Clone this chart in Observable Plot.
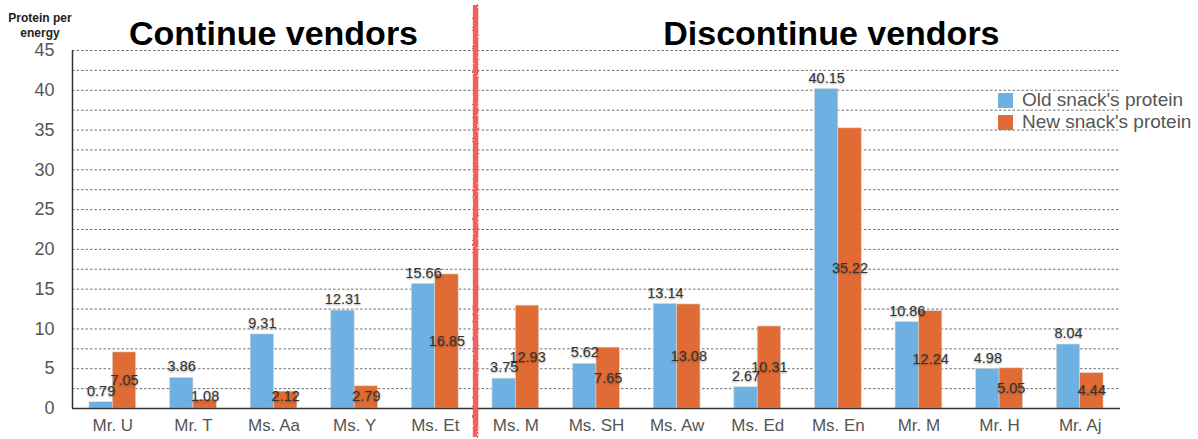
<!DOCTYPE html>
<html>
<head>
<meta charset="utf-8">
<script src="https://cdn.jsdelivr.net/npm/d3@7"></script>
<script src="https://cdn.jsdelivr.net/npm/@observablehq/plot@0.6"></script>
<style>
  body { margin: 0; background: #fff; }
  #wrap { position: relative; width: 1198px; height: 439px; font-family: "Liberation Sans", Arial, Helvetica, sans-serif; }
  #wrap svg { position: absolute; left: 0; top: 0; font-family: "Liberation Sans", Arial, Helvetica, sans-serif; }
  .title { position: absolute; top: 16px; font-weight: bold; font-size: 34px; line-height: 34px; color: #000; transform: translateX(-50%); white-space: nowrap; }
  .ylab { position: absolute; left: 40px; top: 11px; transform: translateX(-50%); font-weight: bold; font-size: 12px; line-height: 15px; text-align: center; color: #222; white-space: nowrap; }
  .legend { position: absolute; left: 998px; top: 89px; font-size: 19px; color: #555; }
  .legend .item { display: flex; align-items: center; height: 22px; white-space: nowrap; }
  .legend .sw { width: 15px; height: 15px; margin-right: 9px; }
  g[aria-label="text"] text { text-shadow: 0 1px 2px rgba(0,0,0,0.35); }
</style>
</head>
<body>
<div id="wrap"></div>
<script>
// ---- data ----
const categories = ["Mr. U", "Mr. T", "Ms. Aa", "Ms. Y", "Ms. Et", "Ms. M", "Ms. SH", "Ms. Aw", "Ms. Ed", "Ms. En", "Mr. M", "Mr. H", "Mr. Aj"];
const oldProtein = [0.79, 3.86, 9.31, 12.31, 15.66, 3.75, 5.62, 13.14, 2.67, 40.15, 10.86, 4.98, 8.04];
const newProtein = [7.05, 1.08, 2.12, 2.79, 16.85, 12.93, 7.65, 13.08, 10.31, 35.22, 12.24, 5.05, 4.44];
const seriesNames = ["Old snack's protein", "New snack's protein"];
const seriesColors = ["#6eb0e2", "#e06b34"];
const groupTitles = ["Continue vendors", "Discontinue vendors"];
const continueCount = 5; // first five vendors continue
const yTickValues = [0, 5, 10, 15, 20, 25, 30, 35, 40, 45];
const yGridValues = [2.5, 5, 7.5, 10, 12.5, 15, 17.5, 20, 22.5, 25, 27.5, 30, 32.5, 35, 37.5, 40, 42.5, 45];
const yLabel = ["Protein per", "energy"];

// ---- build table ----
const half = 0.29;
const rows = categories.flatMap((c, i) => [
  {cat: c, i, series: seriesNames[0], value: oldProtein[i], x1: i + 0.5 - half, x2: i + 0.5},
  {cat: c, i, series: seriesNames[1], value: newProtein[i], x1: i + 0.5, x2: i + 0.5 + half}
]);
const oldRows = rows.filter(d => d.series === seriesNames[0]);
const newRows = rows.filter(d => d.series === seriesNames[1]);
const fmt = d3.format(".2f");

const W = 1198, H = 439, mL = 72, mR = 78, mT = 50, mB = 31;

const chart = Plot.plot({
  width: W, height: H,
  marginLeft: mL, marginRight: mR, marginTop: mT, marginBottom: mB,
  style: {background: "transparent", overflow: "visible"},
  x: {domain: [0, categories.length], axis: null},
  y: {domain: [0, 45], axis: null},
  color: {domain: seriesNames, range: seriesColors},
  marks: [
    Plot.gridY(yGridValues, {stroke: "#6f6f6f", strokeOpacity: 1, strokeWidth: 1, strokeDasharray: "2.5,2"}),
    Plot.rectY(rows, {x1: "x1", x2: "x2", y: "value", fill: "series", stroke: "#d8d8d8", strokeWidth: 0.6}),
    Plot.ruleY([0], {stroke: "#333", strokeWidth: 1.5}),
    Plot.ruleX([0], {stroke: "#333", strokeWidth: 1.5}),
    Plot.axisY(yTickValues, {tickSize: 0, tickPadding: 18, fontSize: 18, fill: "#555", label: null}),
    Plot.axisX(categories.map((c, i) => i + 0.5), {tickSize: 0, tickPadding: 10, fontSize: 17, fill: "#555", label: null, tickFormat: v => categories[Math.floor(v)]}),
    Plot.text(oldRows, {x: d => (d.x1 + d.x2) / 2, y: "value", text: d => fmt(d.value), dy: -11, fontSize: 14.5, fill: "#333"}),
    Plot.text(newRows, {x: d => (d.x1 + d.x2) / 2, y: d => Math.max(d.value / 2, 1.5), text: d => fmt(d.value), fontSize: 14.5, fill: "#333"}),
    Plot.ruleX([continueCount], {stroke: "#ee5a5a", strokeWidth: 5.5, strokeOpacity: 0.95, insetTop: -45, insetBottom: -29})
  ]
});

// rough hand-drawn look for the separator (last rule group)
const ns = "http://www.w3.org/2000/svg";
const defs = document.createElementNS(ns, "defs");
defs.innerHTML = '<filter id="rough" filterUnits="userSpaceOnUse" x="0" y="0" width="' + W + '" height="' + H + '"><feTurbulence type="fractalNoise" baseFrequency="0.6" numOctaves="2" result="n"/><feDisplacementMap in="SourceGraphic" in2="n" scale="2.5" xChannelSelector="R" yChannelSelector="G"/></filter>';
chart.insertBefore(defs, chart.firstChild);
const ruleGroups = chart.querySelectorAll('g[aria-label="rule"]');
const sep = ruleGroups[ruleGroups.length - 1];
if (sep) sep.setAttribute("filter", "url(#rough)");

const wrap = document.getElementById("wrap");
wrap.appendChild(chart);

// titles centered over groups
const xs = d3.scaleLinear().domain([0, categories.length]).range([mL, W - mR]);
const titleX = [xs(continueCount / 2), xs(categories.indexOf("Ms. En") + 0.42)];
groupTitles.forEach((t, k) => {
  const d = document.createElement("div");
  d.className = "title";
  d.style.left = titleX[k] + "px";
  d.textContent = t;
  wrap.appendChild(d);
});

// y label
const yl = document.createElement("div");
yl.className = "ylab";
yl.innerHTML = yLabel.join("<br>");
wrap.appendChild(yl);

// legend
const lg = document.createElement("div");
lg.className = "legend";
seriesNames.forEach((s, k) => {
  const it = document.createElement("div");
  it.className = "item";
  const sw = document.createElement("span");
  sw.className = "sw";
  sw.style.background = seriesColors[k];
  const tx = document.createElement("span");
  tx.textContent = s;
  it.appendChild(sw); it.appendChild(tx);
  lg.appendChild(it);
});
wrap.appendChild(lg);
</script>
</body>
</html>
